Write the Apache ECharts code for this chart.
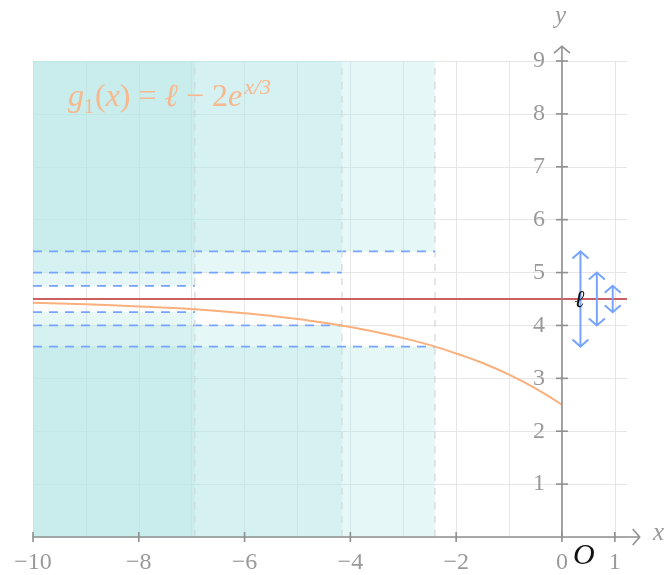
<!DOCTYPE html>
<html>
<head>
<meta charset="utf-8">
<style>
  html, body { margin: 0; padding: 0; background: #fff; }
  #main { width: 669px; height: 575px; }
</style>
<script src="https://cdn.jsdelivr.net/npm/echarts@6/dist/echarts.min.js"></script>
</head>
<body>
<div id="main"></div>
<script>
// values
const xTicks = [-10, -8, -6, -4, -2, 0, 1]
const yTicks = [1, 2, 3, 4, 5, 6, 7, 8, 9]
const curveX = [-10, -9, -8, -7, -6, -5, -4, -3, -2.4, -2, -1.5, -1, -0.5, 0]
const curveY = [4.43, 4.40, 4.36, 4.31, 4.23, 4.12, 3.97, 3.76, 3.60, 3.47, 3.29, 3.07, 2.81, 2.5]
const ell = 4.5
const bandLow = [3.6, 4.0, 4.25]
const bandHigh = [5.4, 5.0, 4.75]
const bandEndX = [-2.4, -4.16, -6.94]
const arrowX = [0.35, 0.66, 0.96]

const X_MIN = -10
const X_MAX = 1.23
const Y_MAX = 9
const X_TIP = 1.47
const Y_TIP = 9.28
const GRID_LEFT = 33

const AXIS_GREY = '#8f8f8f'
const LABEL_GREY = '#9a9a9a'
const BLUE = '#76a4ff'
const ORANGE_TXT = '#f6b88c'
const SERIF = '"Liberation Serif", "DejaVu Serif", serif'

const chart = echarts.init(document.getElementById('main'), null, { renderer: 'canvas' })

function fmtNum(v) {
  return v < 0 ? '\u2212' + Math.abs(v) : String(v)
}

// open chevron at (tx, ty) pointing along (dx, dy)
function chevron(tx, ty, dx, dy, back, half, style) {
  const nx = -dy, ny = dx
  return {
    type: 'polyline',
    shape: {
      points: [
        [tx - dx * back + nx * half, ty - dy * back + ny * half],
        [tx, ty],
        [tx - dx * back - nx * half, ty - dy * back - ny * half]
      ]
    },
    style: style
  }
}

const shadeData = bandEndX.map((e, i) => [e, bandLow[i], bandHigh[i]])
const arrowData = arrowX.map((x, i) => [x, bandLow[i], bandHigh[i]])

const option = {
  animation: false,
  backgroundColor: '#fff',
  title: {
    left: 63,
    top: 72,
    text: '{i|g}{s|1}{n|(}{i|x}{n|) = }{i|\u2113}{n| \u2212 2}{i|e}{p|x/3}',
    textStyle: {
      fontWeight: 'normal',
      rich: {
        i: { fontFamily: SERIF, fontStyle: 'italic', fontWeight: 'normal', fontSize: 32, color: ORANGE_TXT },
        n: { fontFamily: SERIF, fontWeight: 'normal', fontSize: 32, color: ORANGE_TXT },
        s: { fontFamily: SERIF, fontWeight: 'normal', fontSize: 20, color: ORANGE_TXT, verticalAlign: 'bottom', padding: [17, 1, 0, 0] },
        p: { fontFamily: SERIF, fontStyle: 'italic', fontWeight: 'normal', fontSize: 22, color: ORANGE_TXT, verticalAlign: 'top', padding: [0, 0, 19, 2] }
      }
    }
  },
  grid: { left: GRID_LEFT, right: 42, top: 61, bottom: 37, containLabel: false },
  xAxis: {
    type: 'value',
    min: X_MIN,
    max: X_MAX,
    interval: 1,
    axisLine: { show: false, onZero: false },
    axisTick: { show: false },
    splitLine: { show: true, showMaxLine: false, lineStyle: { color: '#e6e6e6', width: 1 } },
    axisLabel: {
      margin: 14,
      color: LABEL_GREY,
      fontFamily: SERIF,
      fontSize: 24,
      showMaxLabel: false,
      formatter: (v) => (xTicks.indexOf(v) >= 0 ? fmtNum(v) : '')
    }
  },
  yAxis: {
    type: 'value',
    min: 0,
    max: Y_MAX,
    interval: 1,
    offset: 0,
    axisLine: { show: false, onZero: false },
    axisTick: { show: false },
    splitLine: { show: true, lineStyle: { color: '#e6e6e6', width: 1 } },
    axisLabel: {
      margin: 17,
      color: LABEL_GREY,
      fontFamily: SERIF,
      fontSize: 24,
      formatter: (v) => (yTicks.indexOf(v) >= 0 ? String(v) : '')
    }
  },
  graphic: [
    { type: 'text', left: 555, top: 4, style: { text: 'y', font: 'italic 25px ' + SERIF, fill: LABEL_GREY } },
    { type: 'text', left: 653, top: 521, style: { text: 'x', font: 'italic 25px ' + SERIF, fill: LABEL_GREY } },
    { type: 'text', left: 573, top: 541, style: { text: 'O', font: 'italic 30px ' + SERIF, fill: '#111' } }
  ],
  series: [
    {
      // shaded columns, each with its band cut out
      type: 'custom',
      z: 1,
      silent: true,
      data: shadeData,
      renderItem: (params, api) => {
        const end = api.value(0), low = api.value(1), high = api.value(2)
        const a = api.coord([X_MIN, 0])
        const b = api.coord([end, low])
        const c = api.coord([X_MIN, high])
        const d = api.coord([end, Y_MAX])
        const fill = { fill: 'rgba(177, 230, 230, 0.32)' }
        return {
          type: 'group',
          children: [
            { type: 'rect', shape: { x: a[0], y: b[1], width: b[0] - a[0], height: a[1] - b[1] }, style: fill },
            { type: 'rect', shape: { x: c[0], y: d[1], width: d[0] - c[0], height: c[1] - d[1] }, style: fill }
          ]
        }
      }
    },
    {
      // dashed guides
      type: 'custom',
      z: 2,
      silent: true,
      data: shadeData,
      renderItem: (params, api) => {
        const end = api.value(0), low = api.value(1), high = api.value(2)
        const bot = api.coord([end, 0])
        const top = api.coord([end, Y_MAX])
        const l0 = api.coord([X_MIN, low]), l1 = api.coord([end, low])
        const h0 = api.coord([X_MIN, high]), h1 = api.coord([end, high])
        const blue = { stroke: BLUE, lineWidth: 1.8, lineDash: [9, 7], fill: null }
        return {
          type: 'group',
          children: [
            { type: 'line', shape: { x1: bot[0], y1: bot[1], x2: top[0], y2: top[1] },
              style: { stroke: '#d6d6d6', lineWidth: 1.2, lineDash: [7, 7] } },
            { type: 'line', shape: { x1: l0[0], y1: l0[1], x2: l1[0], y2: l1[1] }, style: blue },
            { type: 'line', shape: { x1: h0[0], y1: h0[1], x2: h1[0], y2: h1[1] }, style: blue }
          ]
        }
      }
    },
    {
      type: 'line',
      name: 'g1',
      z: 3,
      data: curveX.map((x, i) => [x, curveY[i]]),
      smooth: true,
      showSymbol: false,
      silent: true,
      lineStyle: { color: '#f9b07c', width: 2 },
      markLine: {
        silent: true,
        symbol: ['none', 'none'],
        label: { show: false },
        lineStyle: { color: '#cb5f62', width: 2.2, type: 'solid' },
        data: [{ yAxis: ell }]
      }
    },
    {
      // axes with open arrows and crossing ticks
      type: 'custom',
      z: 5,
      silent: true,
      clip: false,
      data: [[0]],
      renderItem: (params, api) => {
        const st = { stroke: AXIS_GREY, lineWidth: 1.6, fill: null }
        const o = api.coord([X_MIN, 0])
        const xe = api.coord([X_TIP, 0])
        const y0 = api.coord([0, 0])
        const ye = api.coord([0, Y_TIP])
        const children = [
          { type: 'line', shape: { x1: o[0], y1: o[1], x2: xe[0], y2: xe[1] }, style: st },
          { type: 'line', shape: { x1: y0[0], y1: y0[1], x2: ye[0], y2: ye[1] }, style: st },
          chevron(xe[0], xe[1], 1, 0, 7, 8, st),
          chevron(ye[0], ye[1], 0, -1, 7, 8, st)
        ]
        xTicks.forEach((t) => {
          const p = api.coord([t, 0])
          children.push({ type: 'line', shape: { x1: p[0], y1: p[1] - 5, x2: p[0], y2: p[1] + 5 }, style: st })
        })
        yTicks.forEach((t) => {
          const p = api.coord([0, t])
          children.push({ type: 'line', shape: { x1: p[0] - 6, y1: p[1], x2: p[0] + 6, y2: p[1] }, style: st })
        })
        return { type: 'group', children: children }
      }
    },
    {
      // epsilon double arrows
      type: 'custom',
      z: 6,
      silent: true,
      clip: false,
      data: arrowData,
      renderItem: (params, api) => {
        const st = { stroke: BLUE, lineWidth: 2, fill: null }
        const lo = api.coord([api.value(0), api.value(1)])
        const hi = api.coord([api.value(0), api.value(2)])
        return {
          type: 'group',
          children: [
            { type: 'line', shape: { x1: lo[0], y1: lo[1], x2: hi[0], y2: hi[1] }, style: st },
            chevron(hi[0], hi[1], 0, -1, 7, 8, st),
            chevron(lo[0], lo[1], 0, 1, 7, 8, st)
          ]
        }
      }
    },
    {
      // the limit label
      type: 'custom',
      z: 7,
      silent: true,
      clip: false,
      data: [[arrowX[0], ell]],
      renderItem: (params, api) => {
        const p = api.coord([api.value(0), api.value(1)])
        return {
          type: 'text',
          x: p[0] - 1,
          y: p[1] + 2,
          style: { text: '\u2113', font: 'italic 24px ' + SERIF, fill: '#111', align: 'center', verticalAlign: 'middle' }
        }
      }
    }
  ]
}

chart.setOption(option)

// move the y axis labels onto x = 0
const zeroPx = chart.convertToPixel({ xAxisIndex: 0 }, 0)
chart.setOption({ yAxis: { offset: -(zeroPx - GRID_LEFT) } })
</script>
</body>
</html>
